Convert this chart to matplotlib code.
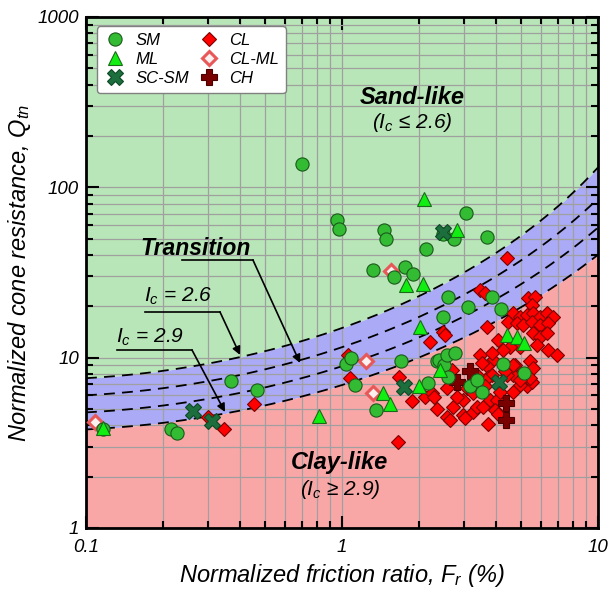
import numpy as np
import matplotlib.pyplot as plt
from matplotlib.ticker import FixedLocator, FixedFormatter, LogLocator, NullFormatter

plt.rcParams['font.family'] = ['Liberation Sans', 'DejaVu Sans']
plt.rcParams['mathtext.fontset'] = 'custom'
plt.rcParams['mathtext.it'] = 'Liberation Sans:italic'
plt.rcParams['mathtext.rm'] = 'Liberation Sans:italic'

# normalized friction ratio Fr (%) and cone resistance Qtn per soil class
sm_fr = [0.117, 0.214, 0.226, 0.367, 0.464, 0.70, 0.96, 0.97, 1.04, 1.08, 1.12, 1.36, 1.32, 1.46,
         1.49, 1.60, 1.70, 1.76, 1.90, 2.13, 2.16, 2.34, 2.40, 2.47, 2.49, 2.50, 2.56, 2.59, 2.60,
         2.74, 2.76, 3.05, 3.10, 3.16, 3.38, 3.51, 3.67, 3.86, 4.17, 4.27, 5.14]
sm_qtn = [3.8, 3.8, 3.6, 7.3, 6.5, 137, 64, 57, 9.2, 9.9, 6.9, 4.9, 32.7, 56,
          50, 29.9, 9.5, 34, 30.9, 43.5, 7.1, 9.5, 9.7, 17.4, 53, 9.1, 10.4, 22.8, 7.7,
          49.6, 10.7, 70.5, 19.9, 6.8, 7.4, 6.3, 51, 22.8, 19.2, 9.2, 8.1]

ml_fr = [0.116, 0.815, 1.44, 1.54, 1.78, 1.99, 2.02, 2.08, 2.10, 2.41, 2.82, 4.43, 4.81, 5.14]
ml_qtn = [3.85, 4.55, 6.2, 5.35, 26.7, 6.8, 15.2, 27, 85, 8.5, 56, 13.6, 13.2, 12.2]

scsm_fr = [0.262, 0.310, 1.74, 2.49, 4.12]
scsm_qtn = [4.89, 4.27, 6.7, 55, 7.2]

clml_fr = [0.108, 1.24, 1.32, 1.55]
clml_qtn = [4.21, 9.5, 6.2, 32.3]

ch_fr = [2.81, 3.16, 4.38, 4.38]
ch_qtn = [7.2, 8.3, 5.4, 4.3]

cl_fr = [0.30, 0.346, 0.453, 1.06, 1.07, 1.66, 1.67, 1.87, 2.11, 2.21, 2.24, 2.34, 2.47, 2.52,
         3.46, 3.62, 3.70, 4.42, 3.73,
         5.34, 5.67, 5.51, 4.67, 4.96, 5.26, 5.59, 5.93, 6.30, 6.69, 4.47, 4.81, 5.11, 5.51,
         5.93, 6.39, 5.59, 5.93, 6.30, 4.08, 5.76, 6.39, 6.90, 4.96, 4.53, 4.27, 3.46, 3.90,
         4.40, 4.74, 5.42, 5.59, 4.81, 5.26, 5.51, 3.67, 3.73,
         3.85, 3.51, 4.67, 5.42, 4.96, 4.40, 3.85, 3.62, 3.36, 2.68,
         2.56, 2.28, 2.56, 2.72, 2.98, 2.98, 3.26, 2.81, 3.36, 3.56, 3.79, 4.02, 3.96, 3.62,
         4.14, 4.67, 3.07, 3.26, 4.33, 4.67, 4.96, 2.64, 3.02, 4.08]
cl_qtn = [4.5, 3.8, 5.35, 10.4, 7.6, 3.2, 7.7, 5.6, 5.9, 12.4, 6.2, 5.0, 14.2, 13.6,
          25.0, 23.9, 15.2, 38.4, 4.1,
          22.3, 22.8, 20.4, 18.2, 17.4, 17.8, 18.2, 17.4, 18.2, 17.4, 16.3, 15.9, 15.6, 16.3,
          15.6, 15.9, 13.9, 13.3, 13.9, 12.7, 11.9, 11.1, 10.4, 11.6, 11.6, 11.1, 10.4, 9.7,
          8.9, 9.1, 9.5, 8.7, 7.7, 6.8, 7.2, 8.9, 7.7,
          10.6, 9.3, 7.9, 7.6, 6.9, 7.9, 7.9, 7.4, 7.9, 8.5,
          6.6, 5.9, 4.5, 5.15, 5.65, 4.6, 4.8, 5.9, 5.15, 5.15, 5.65, 5.65, 4.9, 6.8,
          6.3, 6.3, 6.6, 6.2, 8.3, 9.0, 7.4, 4.3, 4.4, 4.7]

ic_lines = [2.6, 2.7, 2.8, 2.9]


def ic_contour(ic, fr):
    # Robertson soil behaviour type index, solved for Qtn
    x = np.log10(fr) + 1.22
    return 10 ** (3.47 - np.sqrt(ic ** 2 - x ** 2))


fig = plt.figure(figsize=(6.11, 5.90), dpi=100)
ax = fig.add_axes([0.1408, 0.1051, 0.8379, 0.8661])
ax.set_xscale('log')
ax.set_yscale('log')
ax.set_xlim(0.1, 10)
ax.set_ylim(1, 1000)

fr = np.logspace(-1, 1, 400)
q_top = ic_contour(ic_lines[0], fr)
q_bot = ic_contour(ic_lines[-1], fr)
ax.fill_between(fr, q_top, 1000, color='#b8e6b8', lw=0, zorder=0)
ax.fill_between(fr, q_bot, q_top, color='#aaaaf6', lw=0, zorder=0)
ax.fill_between(fr, 1, q_bot, color='#f9a6a6', lw=0, zorder=0)
for ic in ic_lines:
    ax.plot(fr, ic_contour(ic, fr), color='k', lw=1.3, dashes=(6, 4), zorder=1)

ax.set_axisbelow(True)
ax.grid(which='both', color='#a0a0a0', lw=0.9)

h_cl, = ax.plot(cl_fr, cl_qtn, 'D', ms=7.6, mfc='#ff0000', mec='#7a0000', mew=0.8, zorder=3)
h_ch, = ax.plot(ch_fr, ch_qtn, 'P', ms=11, mfc='#7a0000', mec='#4a0000', mew=0.8, zorder=4)
h_clml, = ax.plot(clml_fr, clml_qtn, 'D', ms=7.2, mfc='#fff0f0', mec='#e85858', mew=2.2, zorder=4)
h_sm, = ax.plot(sm_fr, sm_qtn, 'o', ms=9.5, mfc='#33bb33', mec='#1a5a1a', mew=0.8, zorder=5)
h_ml, = ax.plot(ml_fr, ml_qtn, '^', ms=10, mfc='#11ee11', mec='#1a6a1a', mew=0.8, zorder=6)
h_scsm, = ax.plot(scsm_fr, scsm_qtn, 'X', ms=11, mfc='#1c6e3c', mec='#0e4a26', mew=0.8, zorder=7)

leg = ax.legend([h_sm, h_ml, h_scsm, h_cl, h_clml, h_ch],
                ['SM', 'ML', 'SC-SM', 'CL', 'CL-ML', 'CH'],
                ncol=2, loc='upper left', bbox_to_anchor=(0.0215, 0.982), borderaxespad=0,
                prop={'style': 'italic', 'size': 12}, fancybox=True, framealpha=1,
                edgecolor='#808080', handletextpad=0.5, columnspacing=0.5,
                labelspacing=0.25, borderpad=0.4, handlelength=1.4)
leg.get_frame().set_linewidth(1.0)

# axes, ticks
ax.xaxis.set_major_locator(FixedLocator([0.1, 1, 10]))
ax.xaxis.set_major_formatter(FixedFormatter(['0.1', '1', '10']))
ax.yaxis.set_major_locator(FixedLocator([1, 10, 100, 1000]))
ax.yaxis.set_major_formatter(FixedFormatter(['1', '10', '100', '1000']))
for axis in (ax.xaxis, ax.yaxis):
    axis.set_minor_locator(LogLocator(base=10, subs=np.arange(2, 10)))
    axis.set_minor_formatter(NullFormatter())
ax.tick_params(which='both', direction='in', top=True, right=True, width=1.5, labelsize=13.5)
ax.tick_params(which='major', length=9)
ax.tick_params(which='minor', length=5)
ax.tick_params(axis='x', pad=8)
ax.tick_params(axis='y', pad=5)
for lbl in ax.get_xticklabels() + ax.get_yticklabels():
    lbl.set_style('italic')
for sp in ax.spines.values():
    sp.set_linewidth(2)

ax.set_xlabel('Normalized friction ratio, $F_r$ (%)', fontsize=17, style='italic', labelpad=4)
ax.set_ylabel('Normalized cone resistance, $Q_{tn}$', fontsize=17, style='italic', labelpad=3)

# zone labels
ax.text(0.637, 0.830, 'Sand-like', transform=ax.transAxes, ha='center', va='baseline',
        fontsize=17, weight='bold', style='italic')
ax.text(0.637, 0.783, '($I_c$ ≤ 2.6)', transform=ax.transAxes, ha='center', va='baseline',
        fontsize=15, style='italic')
ax.text(0.496, 0.1155, 'Clay-like', transform=ax.transAxes, ha='center', va='baseline',
        fontsize=17, weight='bold', style='italic')
ax.text(0.496, 0.0646, '($I_c$ ≥ 2.9)', transform=ax.transAxes, ha='center', va='baseline',
        fontsize=15, style='italic')

# leader lines with arrows
callouts = [
    ('Transition', (0.213, 0.534), (0.1875, 0.326, 0.5245), (0.418, 0.3229), True),
    ('$I_c$ = 2.6', (0.18, 0.442), (0.115, 0.2617, 0.4227), (0.3008, 0.3386), False),
    ('$I_c$ = 2.9', (0.125, 0.362), (0.0605, 0.207, 0.3483), (0.2715, 0.227), False),
]
for label, (tx, ty), (x0, x1, yl), target, bold in callouts:
    ax.text(tx, ty, label, transform=ax.transAxes, ha='center', va='baseline',
            fontsize=16.5 if bold else 15, style='italic', weight='bold' if bold else 'normal',
            zorder=8)
    ax.plot([x0, x1], [yl, yl], transform=ax.transAxes, color='k', lw=1.2, zorder=8)
    ax.annotate('', xy=target, xytext=(x1, yl), xycoords='axes fraction',
                arrowprops=dict(arrowstyle='-|>', color='k', lw=1.2, mutation_scale=12,
                                shrinkA=0, shrinkB=0), zorder=8)

fig.savefig('out.png', dpi=100)
